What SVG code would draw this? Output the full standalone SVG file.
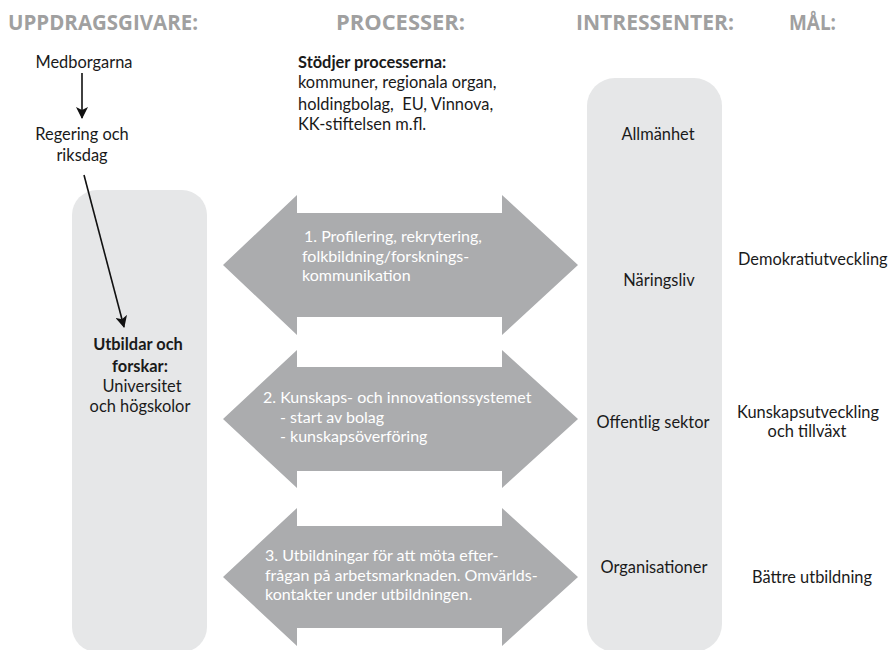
<svg xmlns="http://www.w3.org/2000/svg" width="888" height="650" viewBox="0 0 888 650">
<defs>
<style>
.hdr{font-family:"Open Sans","Liberation Sans",sans-serif;font-weight:bold;font-size:22px;fill:#a0a0a0}
.t{font-family:Lato,"Liberation Sans",sans-serif;font-size:16.4px;fill:#1a1a1a}
.b{font-weight:bold}
.w{font-family:Lato,"Liberation Sans",sans-serif;font-size:16px;fill:#ffffff}
.col{fill:#e6e7e8}
.arr{fill:#abacae}
.c{text-anchor:middle}
.ln{stroke:#111;stroke-width:1.6;fill:none}
</style>
<marker id="ah" viewBox="0 0 12 12" refX="11" refY="6" markerWidth="12" markerHeight="12" markerUnits="userSpaceOnUse" orient="auto">
<path d="M0,0 L12,6 L0,12 L3,6 Z" fill="#111"/>
</marker>
</defs>
<rect width="888" height="650" fill="#ffffff"/>
<g id="headers">
<text class="hdr" x="8" y="30" textLength="190" lengthAdjust="spacingAndGlyphs">UPPDRAGSGIVARE:</text>
<text class="hdr" x="336" y="30" textLength="129" lengthAdjust="spacingAndGlyphs">PROCESSER:</text>
<text class="hdr" x="576" y="30" textLength="158" lengthAdjust="spacingAndGlyphs">INTRESSENTER:</text>
<text class="hdr" x="789" y="30" textLength="47" lengthAdjust="spacingAndGlyphs">MÅL:</text>
</g>
<g id="universitet">
<rect class="col" x="72" y="190" width="135" height="462" rx="25"/>
<text class="t b c" x="138" y="350">Utbildar och</text>
<text class="t b c" x="140" y="372">forskar:</text>
<text class="t c" x="142" y="392">Universitet</text>
<text class="t c" x="140" y="412">och högskolor</text>
</g>
<g id="intressenter">
<rect class="col" x="587" y="78" width="135" height="574" rx="28"/>
<text class="t c" x="658" y="140">Allmänhet</text>
<text class="t c" x="659" y="286">Näringsliv</text>
<text class="t c" x="653" y="428">Offentlig sektor</text>
<text class="t c" x="654" y="573">Organisationer</text>
</g>
<g id="medborgarna"><text class="t c" x="84" y="68">Medborgarna</text></g>
<g id="regering">
<text class="t c" x="82" y="140">Regering och</text>
<text class="t c" x="82" y="161">riksdag</text>
</g>
<g id="stodjer">
<text class="t b" x="298" y="68">Stödjer processerna:</text>
<text class="t" x="298" y="88">kommuner, regionala organ,</text>
<text class="t" x="298" y="110">holdingbolag, &#160;EU, Vinnova,</text>
<text class="t" x="298" y="130">KK-stiftelsen m.fl.</text>
</g>
<g id="process1">
<polygon class="arr" points="223,265 297,195 297,213 502,213 502,195 578,265 502,335 502,317 297,317 297,335"/>
<text class="w" x="304" y="242">1. Profilering, rekrytering,</text>
<text class="w" x="302" y="261.5">folkbildning/forsknings-</text>
<text class="w" x="302" y="281">kommunikation</text>
</g>
<g id="process2">
<polygon class="arr" points="223,419 297,350 297,367 502,367 502,350 578,419 502,488 502,471 297,471 297,488"/>
<text class="w" x="263" y="403">2. Kunskaps- och innovationssystemet</text>
<text class="w" x="280" y="422.5">- start av bolag</text>
<text class="w" x="280" y="442">- kunskapsöverföring</text>
</g>
<g id="process3">
<polygon class="arr" points="223,577 297,508 297,526 502,526 502,508 578,577 502,646 502,628 297,628 297,646"/>
<text class="w" x="265" y="561">3. Utbildningar för att möta efter-</text>
<text class="w" x="265" y="580.5">frågan på arbetsmarknaden. Omvärlds-</text>
<text class="w" x="265" y="600">kontakter under utbildningen.</text>
</g>
<g id="mal">
<text class="t" x="738" y="265">Demokratiutveckling</text>
<text class="t c" x="808" y="418">Kunskapsutveckling</text>
<text class="t c" x="807" y="437">och tillväxt</text>
<text class="t c" x="812" y="583">Bättre utbildning</text>
</g>
<g id="connectors">
<line class="ln" x1="82" y1="73" x2="82" y2="118" marker-end="url(#ah)"/>
<line class="ln" x1="84" y1="175" x2="124" y2="327" marker-end="url(#ah)"/>
</g>
</svg>
